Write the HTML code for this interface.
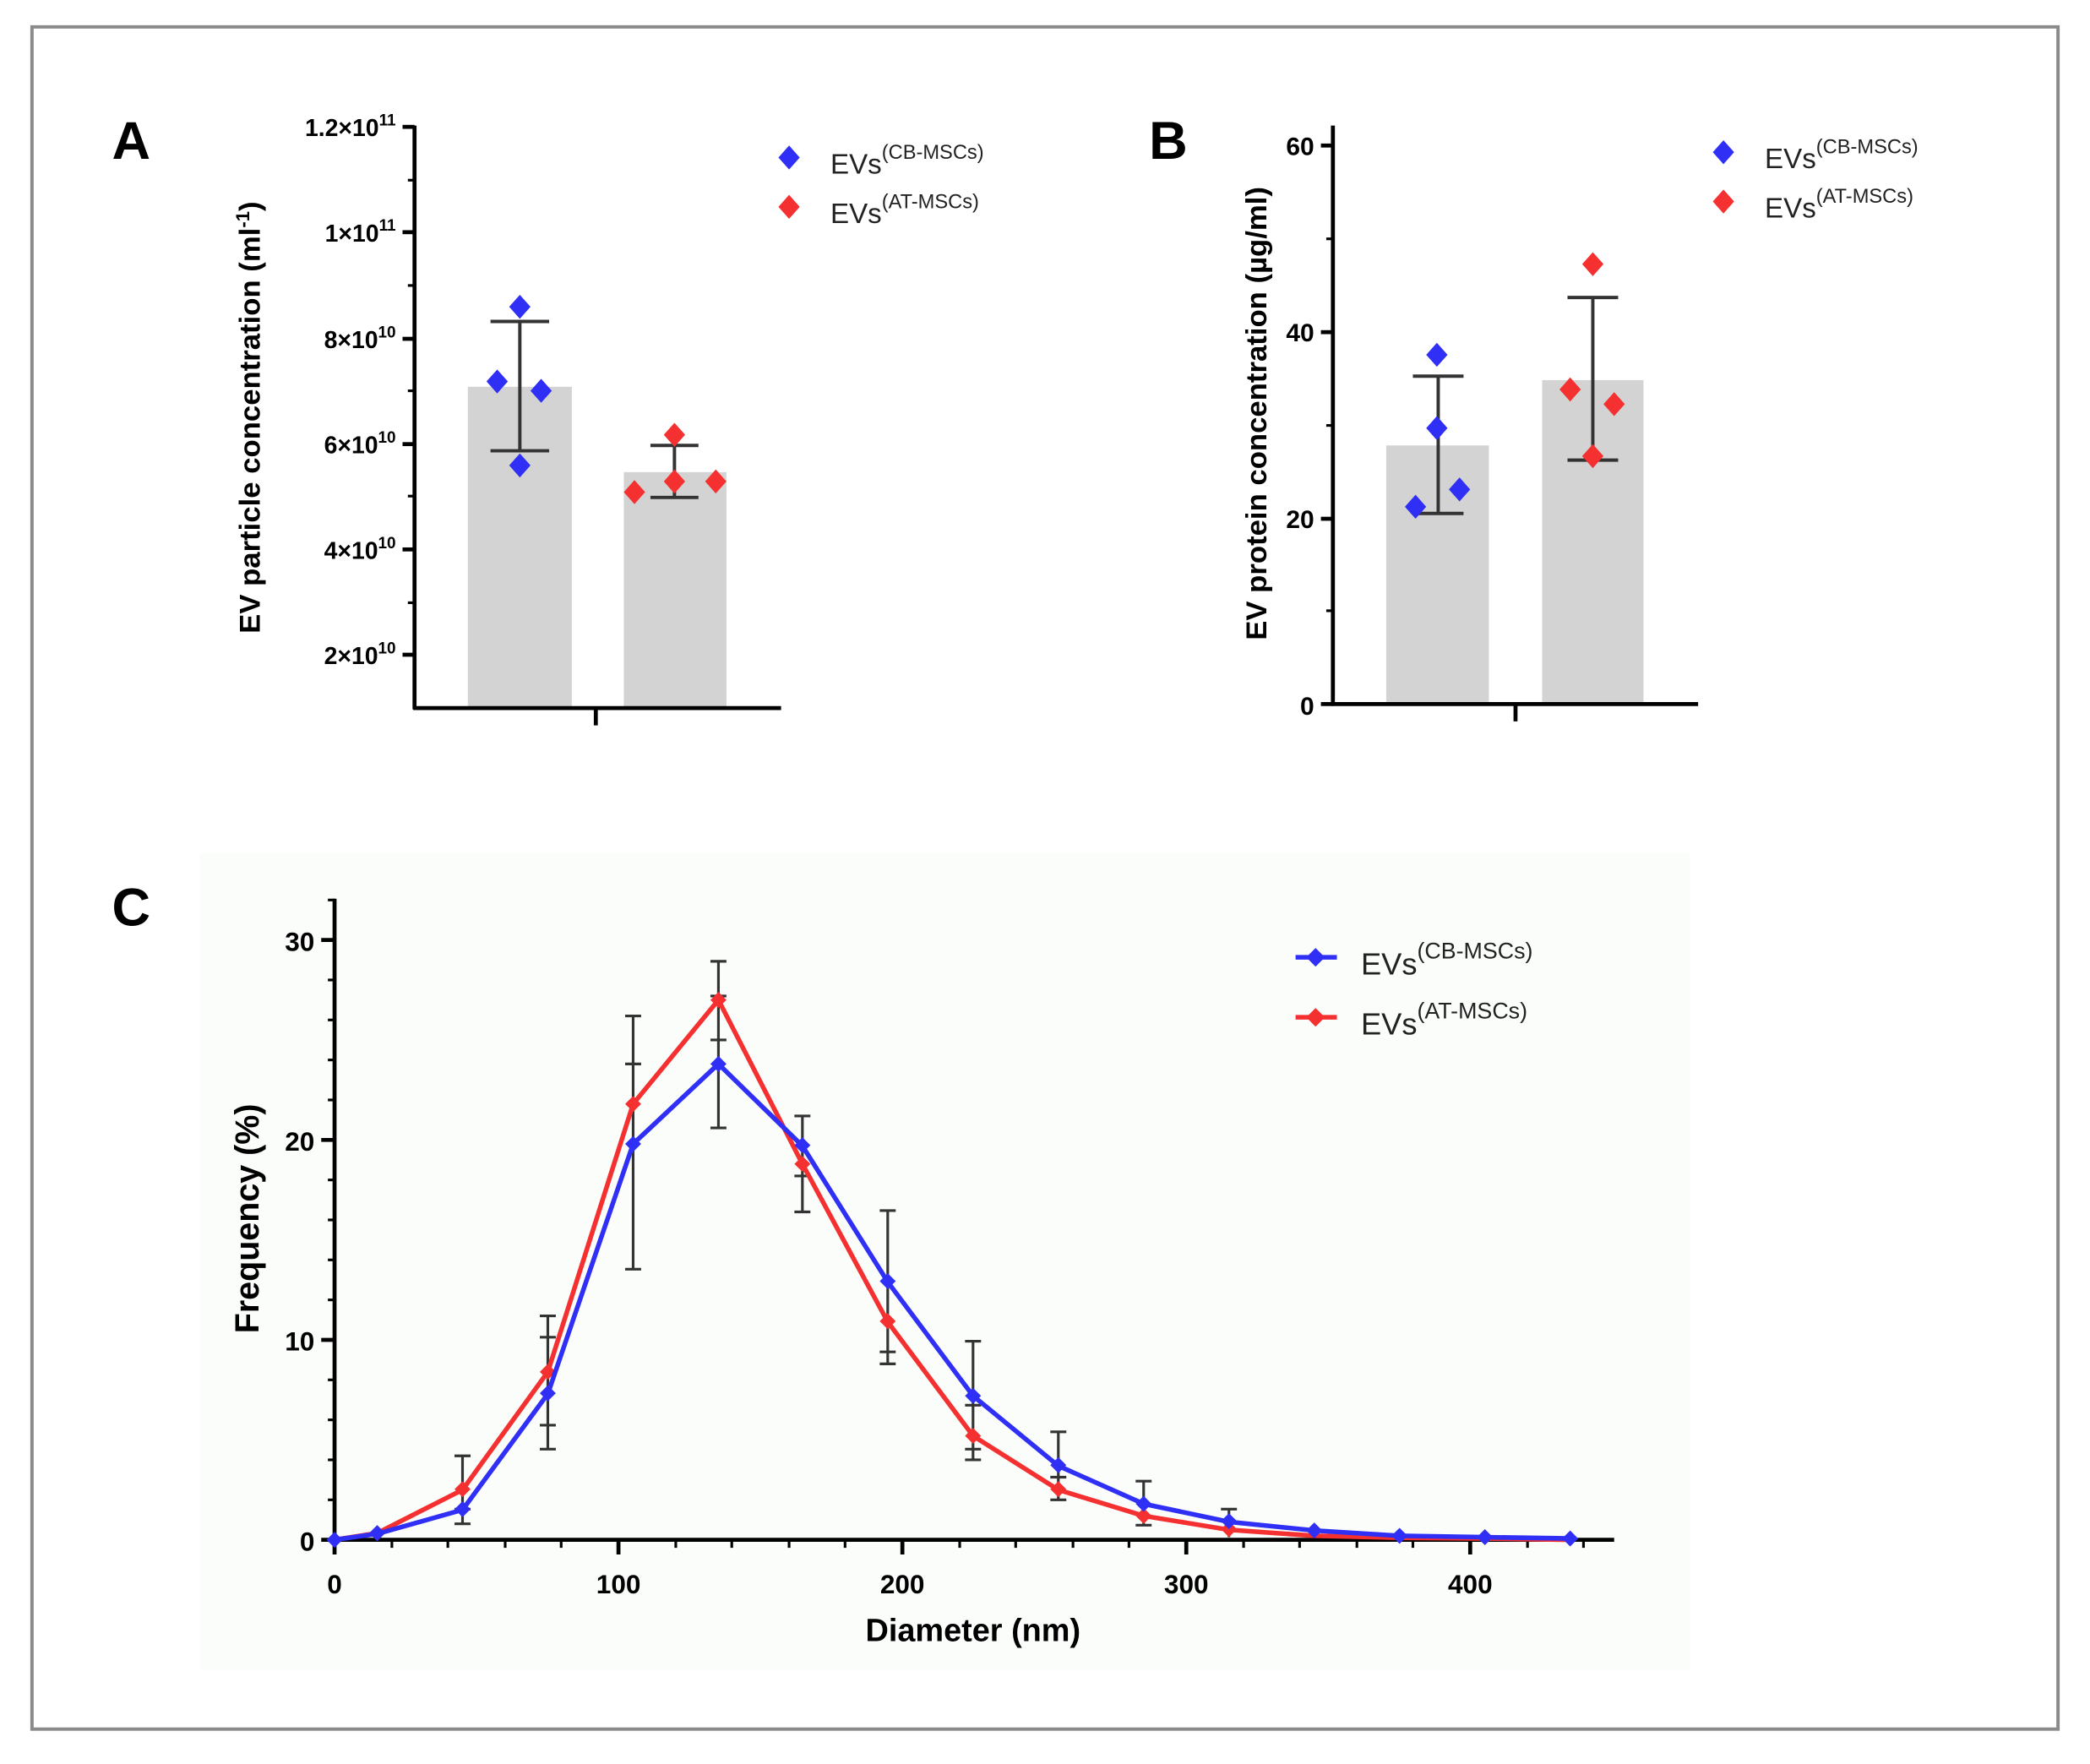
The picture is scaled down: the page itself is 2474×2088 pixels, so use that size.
<!DOCTYPE html>
<html><head><meta charset="utf-8"><style>html,body{margin:0;padding:0;background:#fff}svg{display:block}</style></head>
<body>
<svg width="2474" height="2088" viewBox="0 0 1568 1323" xmlns="http://www.w3.org/2000/svg" font-family="Liberation Sans, Arial, sans-serif">
<rect x="0" y="0" width="1568" height="1323" fill="#fff"/>
<rect x="24" y="20" width="1520" height="1277" fill="none" stroke="#8a8a8a" stroke-width="2.5"/>

<!-- Panel A -->
<text x="84" y="119" font-size="40" font-weight="bold">A</text>
<rect x="351" y="290" width="78" height="241" fill="#d3d3d3"/>
<rect x="468" y="354" width="77" height="177" fill="#d3d3d3"/>
<g stroke="#000" stroke-width="3" fill="none">
<line x1="311" y1="94" x2="311" y2="532"/>
<line x1="310" y1="531" x2="586" y2="531"/>
<line x1="447" y1="531" x2="447" y2="544"/>
<line x1="302" y1="95" x2="311" y2="95"/><line x1="302" y1="174" x2="311" y2="174"/><line x1="302" y1="254" x2="311" y2="254"/><line x1="302" y1="333" x2="311" y2="333"/><line x1="302" y1="412" x2="311" y2="412"/><line x1="302" y1="491" x2="311" y2="491"/>
<g stroke-width="2"><line x1="306" y1="135" x2="311" y2="135"/><line x1="306" y1="214" x2="311" y2="214"/><line x1="306" y1="293" x2="311" y2="293"/><line x1="306" y1="372" x2="311" y2="372"/><line x1="306" y1="452" x2="311" y2="452"/></g>
</g>
<g stroke="#333" stroke-width="2.5">
<line x1="390" y1="241" x2="390" y2="338"/><line x1="368" y1="241" x2="412" y2="241"/><line x1="368" y1="338" x2="412" y2="338"/>
<line x1="506" y1="334" x2="506" y2="373"/><line x1="488" y1="334" x2="524" y2="334"/><line x1="488" y1="373" x2="524" y2="373"/>
</g>
<g font-size="18" font-weight="bold" text-anchor="end">
<text x="297" y="102">1.2×10<tspan font-size="12" dy="-8">11</tspan></text>
<text x="297" y="181">1×10<tspan font-size="12" dy="-8">11</tspan></text>
<text x="297" y="261">8×10<tspan font-size="12" dy="-8">10</tspan></text>
<text x="297" y="340">6×10<tspan font-size="12" dy="-8">10</tspan></text>
<text x="297" y="419">4×10<tspan font-size="12" dy="-8">10</tspan></text>
<text x="297" y="498">2×10<tspan font-size="12" dy="-8">10</tspan></text>
</g>
<text transform="translate(195,313) rotate(-90)" font-size="22" font-weight="bold" text-anchor="middle">EV particle concentration  (ml<tspan font-size="14" dy="-8">-1</tspan><tspan dy="8">)</tspan></text>
<g fill="#2f2ff5">
<path d="M390 221l8 9-8 9-8-9z"/><path d="M373 277l8 9-8 9-8-9z"/><path d="M406 284l8 9-8 9-8-9z"/><path d="M390 340l8 9-8 9-8-9z"/>
<path d="M592 109l8 9-8 9-8-9z"/>
</g>
<g fill="#f53030">
<path d="M476 360l8 9-8 9-8-9z"/><path d="M506 317l8 9-8 9-8-9z"/><path d="M506 352l8 9-8 9-8-9z"/><path d="M537 352l8 9-8 9-8-9z"/>
<path d="M592 146l8 9-8 9-8-9z"/>
</g>
<g font-size="21" fill="#222">
<text x="623" y="130">EVs<tspan font-size="15" dy="-11">(CB-MSCs)</tspan></text>
<text x="623" y="167">EVs<tspan font-size="15" dy="-11">(AT-MSCs)</tspan></text>
</g>

<!-- Panel B -->
<text x="862" y="119" font-size="40" font-weight="bold">B</text>
<rect x="1040" y="334" width="77" height="194" fill="#d3d3d3"/>
<rect x="1157" y="285" width="76" height="243" fill="#d3d3d3"/>
<g stroke="#000" stroke-width="3" fill="none">
<line x1="1000" y1="94" x2="1000" y2="529"/>
<line x1="999" y1="528" x2="1274" y2="528"/>
<line x1="1137" y1="528" x2="1137" y2="541"/>
<line x1="991" y1="109" x2="1000" y2="109"/><line x1="991" y1="249" x2="1000" y2="249"/><line x1="991" y1="389" x2="1000" y2="389"/><line x1="991" y1="528" x2="1000" y2="528"/>
<g stroke-width="2"><line x1="995" y1="179" x2="1000" y2="179"/><line x1="995" y1="319" x2="1000" y2="319"/><line x1="995" y1="458" x2="1000" y2="458"/></g>
</g>
<g stroke="#333" stroke-width="2.5">
<line x1="1079" y1="282" x2="1079" y2="385"/><line x1="1060" y1="282" x2="1098" y2="282"/><line x1="1060" y1="385" x2="1098" y2="385"/>
<line x1="1195" y1="223" x2="1195" y2="345"/><line x1="1176" y1="223" x2="1214" y2="223"/><line x1="1176" y1="345" x2="1214" y2="345"/>
</g>
<g font-size="19" font-weight="bold" text-anchor="end">
<text x="986" y="116">60</text><text x="986" y="256">40</text><text x="986" y="396">20</text><text x="986" y="536">0</text>
</g>
<text transform="translate(950,310) rotate(-90)" font-size="22" font-weight="bold" text-anchor="middle">EV protein concentration (µg/ml)</text>
<g fill="#2f2ff5">
<path d="M1078 257l8 9-8 9-8-9z"/><path d="M1078 312l8 9-8 9-8-9z"/><path d="M1095 358l8 9-8 9-8-9z"/><path d="M1062 371l8 9-8 9-8-9z"/>
<path d="M1293 105l8 9-8 9-8-9z"/>
</g>
<g fill="#f53030">
<path d="M1195 189l8 9-8 9-8-9z"/><path d="M1178 283l8 9-8 9-8-9z"/><path d="M1211 294l8 9-8 9-8-9z"/><path d="M1195 333l8 9-8 9-8-9z"/>
<path d="M1293 142l8 9-8 9-8-9z"/>
</g>
<g font-size="21" fill="#222">
<text x="1324" y="126">EVs<tspan font-size="15" dy="-11">(CB-MSCs)</tspan></text>
<text x="1324" y="163">EVs<tspan font-size="15" dy="-11">(AT-MSCs)</tspan></text>
</g>

<!-- Panel C -->
<rect x="150" y="640" width="1118" height="613" fill="#fbfdfb"/>
<text x="84" y="694" font-size="40" font-weight="bold">C</text>
<g stroke="#000" stroke-width="3" fill="none">
<line x1="251" y1="674" x2="251" y2="1156"/>
<line x1="250" y1="1155" x2="1211" y2="1155"/>
<line x1="241" y1="705" x2="251" y2="705"/><line x1="241" y1="855" x2="251" y2="855"/><line x1="241" y1="1005" x2="251" y2="1005"/><line x1="241" y1="1155" x2="251" y2="1155"/>
<g stroke-width="2">
<line x1="246" y1="735" x2="251" y2="735"/><line x1="246" y1="765" x2="251" y2="765"/><line x1="246" y1="795" x2="251" y2="795"/><line x1="246" y1="825" x2="251" y2="825"/>
<line x1="246" y1="885" x2="251" y2="885"/><line x1="246" y1="915" x2="251" y2="915"/><line x1="246" y1="945" x2="251" y2="945"/><line x1="246" y1="975" x2="251" y2="975"/>
<line x1="246" y1="1035" x2="251" y2="1035"/><line x1="246" y1="1065" x2="251" y2="1065"/><line x1="246" y1="1095" x2="251" y2="1095"/><line x1="246" y1="1125" x2="251" y2="1125"/>
<line x1="246" y1="675" x2="251" y2="675"/>
</g>
<line x1="251" y1="1155" x2="251" y2="1166"/><line x1="464" y1="1155" x2="464" y2="1166"/><line x1="677" y1="1155" x2="677" y2="1166"/><line x1="890" y1="1155" x2="890" y2="1166"/><line x1="1103" y1="1155" x2="1103" y2="1166"/>
<g stroke-width="2">
<line x1="294" y1="1155" x2="294" y2="1161"/><line x1="336" y1="1155" x2="336" y2="1161"/><line x1="379" y1="1155" x2="379" y2="1161"/><line x1="421" y1="1155" x2="421" y2="1161"/>
<line x1="507" y1="1155" x2="507" y2="1161"/><line x1="549" y1="1155" x2="549" y2="1161"/><line x1="592" y1="1155" x2="592" y2="1161"/><line x1="634" y1="1155" x2="634" y2="1161"/>
<line x1="720" y1="1155" x2="720" y2="1161"/><line x1="762" y1="1155" x2="762" y2="1161"/><line x1="805" y1="1155" x2="805" y2="1161"/><line x1="847" y1="1155" x2="847" y2="1161"/>
<line x1="933" y1="1155" x2="933" y2="1161"/><line x1="975" y1="1155" x2="975" y2="1161"/><line x1="1018" y1="1155" x2="1018" y2="1161"/><line x1="1060" y1="1155" x2="1060" y2="1161"/>
<line x1="1146" y1="1155" x2="1146" y2="1161"/><line x1="1188" y1="1155" x2="1188" y2="1161"/>
</g>
</g>
<g font-size="20" font-weight="bold" text-anchor="end">
<text x="236" y="713">30</text><text x="236" y="863">20</text><text x="236" y="1013">10</text><text x="236" y="1163">0</text>
</g>
<g font-size="20" font-weight="bold" text-anchor="middle">
<text x="251" y="1195">0</text><text x="464" y="1195">100</text><text x="677" y="1195">200</text><text x="890" y="1195">300</text><text x="1103" y="1195">400</text>
</g>
<text x="730" y="1231" font-size="24" font-weight="bold" text-anchor="middle">Diameter (nm)</text>
<text transform="translate(194,914) rotate(-90)" font-size="25" font-weight="bold" text-anchor="middle">Frequency (%)</text>
<!-- error bars -->
<g stroke="#333" stroke-width="2">
<line x1="347" y1="1143" x2="347" y2="1092"/><line x1="341" y1="1143" x2="353" y2="1143"/><line x1="341" y1="1092" x2="353" y2="1092"/><line x1="341" y1="1132" x2="353" y2="1132"/>
<line x1="411" y1="1087" x2="411" y2="987"/><line x1="405" y1="1087" x2="417" y2="1087"/><line x1="405" y1="987" x2="417" y2="987"/><line x1="405" y1="1069" x2="417" y2="1069"/><line x1="405" y1="1003" x2="417" y2="1003"/>
<line x1="475" y1="952" x2="475" y2="762"/><line x1="469" y1="952" x2="481" y2="952"/><line x1="469" y1="762" x2="481" y2="762"/><line x1="469" y1="798" x2="481" y2="798"/>
<line x1="539" y1="846" x2="539" y2="721"/><line x1="533" y1="846" x2="545" y2="846"/><line x1="533" y1="721" x2="545" y2="721"/><line x1="533" y1="780" x2="545" y2="780"/><line x1="533" y1="747" x2="545" y2="747"/>
<line x1="602" y1="909" x2="602" y2="837"/><line x1="596" y1="909" x2="608" y2="909"/><line x1="596" y1="837" x2="608" y2="837"/><line x1="596" y1="882" x2="608" y2="882"/>
<line x1="666" y1="1023" x2="666" y2="908"/><line x1="660" y1="1023" x2="672" y2="1023"/><line x1="660" y1="908" x2="672" y2="908"/><line x1="660" y1="1014" x2="672" y2="1014"/>
<line x1="730" y1="1095" x2="730" y2="1006"/><line x1="724" y1="1095" x2="736" y2="1095"/><line x1="724" y1="1006" x2="736" y2="1006"/><line x1="724" y1="1087" x2="736" y2="1087"/><line x1="724" y1="1054" x2="736" y2="1054"/>
<line x1="794" y1="1125" x2="794" y2="1074"/><line x1="788" y1="1125" x2="800" y2="1125"/><line x1="788" y1="1074" x2="800" y2="1074"/><line x1="788" y1="1108" x2="800" y2="1108"/>
<line x1="858" y1="1144" x2="858" y2="1111"/><line x1="852" y1="1144" x2="864" y2="1144"/><line x1="852" y1="1111" x2="864" y2="1111"/>
<line x1="922" y1="1153" x2="922" y2="1132"/><line x1="916" y1="1132" x2="928" y2="1132"/>
</g>
<polyline fill="none" stroke="#f53030" stroke-width="3.5" points="251,1155 283,1150 347,1117.5 411,1029 475,828 539,750 602,873 666,991.5 730,1077 794,1117.5 858,1137 922,1147.5 986,1152 1050,1153.5 1114,1154 1178,1155"/>
<g fill="#f53030">
<path d="M283 1144l6 6-6 6-6-6z"/><path d="M347 1111l6 6-6 6-6-6z"/><path d="M411 1023l6 6-6 6-6-6z"/><path d="M475 822l6 6-6 6-6-6z"/><path d="M539 744l6 6-6 6-6-6z"/><path d="M602 867l6 6-6 6-6-6z"/><path d="M666 985l6 6-6 6-6-6z"/><path d="M730 1071l6 6-6 6-6-6z"/><path d="M794 1111l6 6-6 6-6-6z"/><path d="M858 1131l6 6-6 6-6-6z"/><path d="M922 1141l6 6-6 6-6-6z"/>
</g>
<polyline fill="none" stroke="#2f2ff5" stroke-width="3.5" points="251,1155 283,1150.5 347,1132.5 411,1045.5 475,858 539,798 602,859.5 666,961.5 730,1047 794,1099.5 858,1128 922,1141.5 986,1148 1050,1152 1114,1153 1178,1154"/>
<g fill="#2f2ff5">
<path d="M251 1149l6 6-6 6-6-6z"/><path d="M283 1144l6 6-6 6-6-6z"/><path d="M347 1126l6 6-6 6-6-6z"/><path d="M411 1039l6 6-6 6-6-6z"/><path d="M475 852l6 6-6 6-6-6z"/><path d="M539 792l6 6-6 6-6-6z"/><path d="M602 853l6 6-6 6-6-6z"/><path d="M666 955l6 6-6 6-6-6z"/><path d="M730 1041l6 6-6 6-6-6z"/><path d="M794 1093l6 6-6 6-6-6z"/><path d="M858 1122l6 6-6 6-6-6z"/><path d="M922 1135l6 6-6 6-6-6z"/><path d="M986 1142l6 6-6 6-6-6z"/><path d="M1050 1146l6 6-6 6-6-6z"/><path d="M1114 1147l6 6-6 6-6-6z"/><path d="M1178 1148l6 6-6 6-6-6z"/>
</g>
<!-- legend C -->
<line x1="972" y1="718" x2="1003" y2="718" stroke="#2f2ff5" stroke-width="3.5"/><path d="M987 711l7 7-7 7-7-7z" fill="#2f2ff5"/>
<line x1="972" y1="763" x2="1003" y2="763" stroke="#f53030" stroke-width="3.5"/><path d="M987 756l7 7-7 7-7-7z" fill="#f53030"/>
<g font-size="23" fill="#222">
<text x="1021" y="731">EVs<tspan font-size="17" dy="-12">(CB-MSCs)</tspan></text>
<text x="1021" y="776">EVs<tspan font-size="17" dy="-12">(AT-MSCs)</tspan></text>
</g>
</svg>
</body></html>
